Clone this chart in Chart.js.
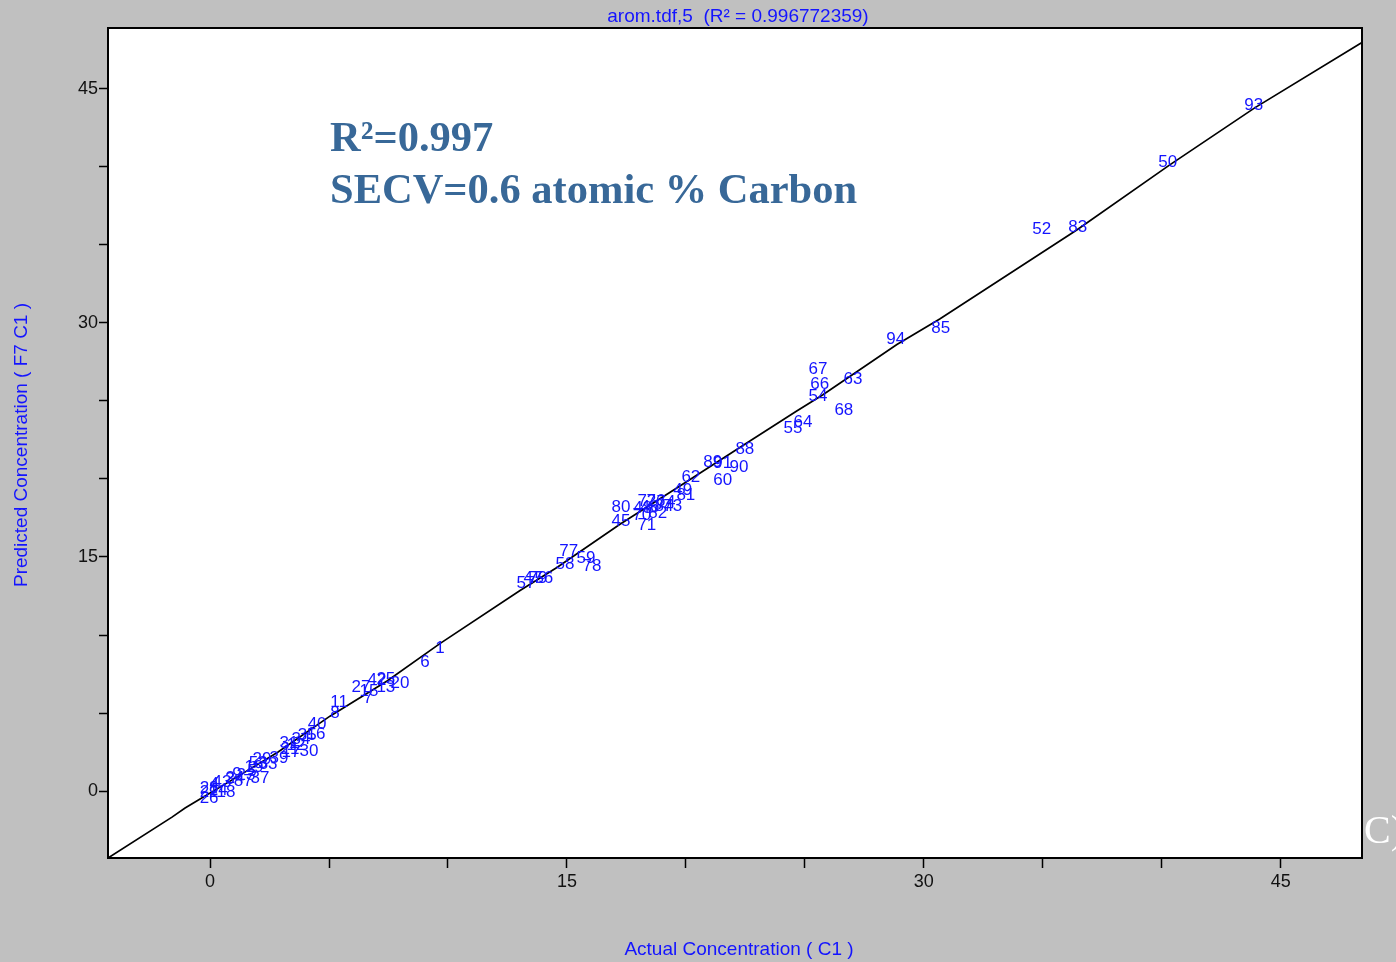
<!DOCTYPE html>
<html>
<head>
<meta charset="utf-8">
<title>arom.tdf,5</title>
<script src="https://cdn.jsdelivr.net/npm/chart.js@4.4.1/dist/chart.umd.min.js"></script>
<style>
  html, body { margin: 0; padding: 0; background: #c0c0c0; }
  #wrap { width: 1396px; height: 962px; position: relative; }
</style>
</head>
<body>
<div id="wrap"><canvas id="chart"></canvas></div>
<script>
// sample numbers with actual vs. predicted carbon concentration
const sampleIds = [1, 6, 20, 13, 25, 42, 27, 15, 7, 11, 8, 40, 16, 35, 34, 12, 31, 21, 17, 30,
  29, 39, 33, 53, 37, 87, 24, 9, 43, 4, 18, 28, 22, 26, 14, 3, 23, 5, 19,
  57, 47, 79, 56, 58, 77, 59, 78, 45, 80, 71, 48, 46, 72, 76, 74, 82, 73, 84, 70,
  49, 81, 62, 60, 89, 91, 90, 88, 55, 64, 54, 66, 67, 63, 68, 94, 85, 52, 83, 50, 93];
const actual = [9.66, 9.03, 7.98, 7.39, 7.39, 7.02, 6.34, 6.68, 6.64, 5.42, 5.25, 4.50, 4.45, 4.08, 3.82, 3.61, 3.32, 3.36, 3.40, 4.16,
  2.18, 2.90, 2.44, 2.02, 2.10, 1.39, 1.05, 1.13, 0.50, 0.17, 0.67, -0.04, -0.04, -0.04, 0.34, 0.84, 1.51, 1.76, 1.85,
  13.28, 13.57, 13.78, 14.03, 14.92, 15.08, 15.80, 16.05, 17.27, 17.27, 18.36, 18.19, 18.49, 18.36, 18.74, 19.16, 18.82, 19.45, 19.08, 18.15,
  19.87, 20.00, 20.21, 21.55, 21.13, 21.55, 22.23, 22.48, 24.50, 24.92, 25.55, 25.63, 25.55, 27.02, 26.64, 28.82, 30.71, 34.96, 36.47, 40.25, 43.87];
const predicted = [9.23, 8.33, 6.99, 6.73, 7.24, 7.18, 6.73, 6.47, 6.03, 5.77, 5.06, 4.36, 3.72, 3.65, 3.40, 3.01, 3.14, 2.76, 2.56, 2.63,
  2.12, 2.18, 1.79, 1.86, 0.90, 0.71, 0.90, 1.15, 0.64, 0.51, 0.00, 0.26, 0.00, -0.38, 0.13, 0.83, 1.09, 1.35, 1.60,
  13.40, 13.72, 13.72, 13.72, 14.62, 15.45, 15.00, 14.49, 17.37, 18.27, 17.12, 18.21, 18.27, 18.65, 18.65, 18.59, 17.88, 18.33, 18.33, 17.76,
  19.36, 19.04, 20.19, 20.00, 21.15, 21.09, 20.83, 21.99, 23.33, 23.72, 25.38, 26.15, 27.12, 26.47, 24.49, 29.04, 29.74, 36.09, 36.22, 40.38, 44.04];

// regression line vertices
const fitX = [-4.29, -1.60, -1.05, -0.42, 1.05, 2.86, 5.04, 7.44, 9.66, 13.03, 14.58, 17.23, 19.75, 22.56, 24.66, 25.76, 28.87, 30.67, 36.43, 40.34, 43.91, 48.40];
const fitY = [-4.29, -1.67, -1.09, -0.51, 0.83, 2.50, 4.80, 7.05, 9.45, 12.85, 14.33, 17.10, 19.55, 22.31, 24.35, 25.40, 28.62, 30.25, 35.96, 40.13, 43.78, 47.95];

const xTicks = [0, 5, 10, 15, 20, 25, 30, 35, 40, 45];
const yTicks = [0, 5, 10, 15, 20, 25, 30, 35, 40, 45];
const majorStep = 15;

const titleText = 'arom.tdf,5  (R\u00B2 = 0.996772359)';
const xTitle = 'Actual Concentration ( C1 )';
const yTitle = 'Predicted Concentration ( F7 C1 )';
const noteLines = ['R\u00B2=0.997', 'SECV=0.6 atomic % Carbon'];

const BLUE = '#1414ff';

const plotFrame = {
  id: 'plotFrame',
  beforeDraw(chart) {
    const { ctx, chartArea: a } = chart;
    ctx.save();
    ctx.fillStyle = '#c0c0c0';
    ctx.fillRect(0, 0, chart.width, chart.height);
    ctx.fillStyle = '#ffffff';
    ctx.fillRect(a.left, a.top, a.right - a.left, a.bottom - a.top);
    ctx.restore();
  },
  afterDatasetsDraw(chart) {
    // sample numbers drawn at each point
    const { ctx } = chart;
    const meta = chart.getDatasetMeta(1);
    ctx.save();
    ctx.fillStyle = BLUE;
    ctx.font = '17px "Liberation Sans", Arial, sans-serif';
    ctx.textAlign = 'center';
    ctx.textBaseline = 'middle';
    meta.data.forEach((pt, i) => {
      ctx.fillText(String(sampleIds[i]), pt.x, pt.y + 1.5);
    });
    ctx.restore();
  },
  afterDraw(chart) {
    const { ctx, chartArea: a } = chart;
    ctx.save();
    ctx.strokeStyle = '#000';
    ctx.lineWidth = 2;
    ctx.strokeRect(a.left, a.top, a.right - a.left, a.bottom - a.top);

    const cx = (a.left + a.right) / 2;
    ctx.fillStyle = BLUE;
    ctx.textAlign = 'center';
    ctx.textBaseline = 'alphabetic';
    ctx.font = '19px "Liberation Sans Narrow", "Liberation Sans", Arial, sans-serif';
    ctx.fillText(titleText, cx + 3, 22);

    ctx.font = '19px "Liberation Sans", Arial, sans-serif';
    ctx.fillText(xTitle, cx + 4, 955);

    ctx.save();
    ctx.translate(27, (a.top + a.bottom) / 2 + 2);
    ctx.rotate(-Math.PI / 2);
    ctx.fillText(yTitle, 0, 0);
    ctx.restore();

    // statistics block
    ctx.fillStyle = '#386898';
    ctx.textAlign = 'left';
    ctx.font = 'bold 42.5px "Liberation Serif", "Times New Roman", serif';
    ctx.fillText(noteLines[0], 330, 151);
    ctx.fillText(noteLines[1], 330, 203);

    ctx.fillStyle = '#ffffff';
    ctx.font = '40px "Liberation Serif", "Times New Roman", serif';
    ctx.fillText('C)', 1364, 843);
    ctx.restore();
  }
};

const majorLabel = v => (v % majorStep === 0 ? String(v) : '');

new Chart(document.getElementById('chart'), {
  type: 'scatter',
  data: {
    datasets: [
      {
        label: 'fit',
        data: fitX.map((x, i) => ({ x, y: fitY[i] })),
        showLine: true,
        borderColor: '#000',
        borderWidth: 1.7,
        pointRadius: 0,
        tension: 0
      },
      {
        label: 'samples',
        data: actual.map((x, i) => ({ x, y: predicted[i] })),
        pointRadius: 0,
        showLine: false
      }
    ]
  },
  options: {
    responsive: true,
    maintainAspectRatio: false,
    devicePixelRatio: 1,
    animation: false,
    layout: { padding: { top: 28, right: 34, left: 0, bottom: 0 } },
    plugins: { legend: { display: false }, tooltip: { enabled: false } },
    scales: {
      x: {
        type: 'linear',
        min: -4.29,
        max: 48.42,
        afterBuildTicks: s => { s.ticks = xTicks.map(v => ({ value: v })); },
        afterFit: s => { s.height = 104; },
        ticks: { callback: majorLabel, color: '#111', padding: 3, maxRotation: 0, autoSkip: false,
          font: { size: 18, family: '"Liberation Sans", Arial, sans-serif' } },
        grid: { drawOnChartArea: false, drawTicks: true, tickLength: 10, color: '#000', tickWidth: 1.5 },
        border: { display: true, color: '#000', width: 2 }
      },
      y: {
        type: 'linear',
        min: -4.29,
        max: 48.9,
        afterBuildTicks: s => { s.ticks = yTicks.map(v => ({ value: v })); },
        afterFit: s => { s.width = 108; },
        ticks: { callback: majorLabel, color: '#111', padding: 1, autoSkip: false,
          font: { size: 18, family: '"Liberation Sans", Arial, sans-serif' } },
        grid: { drawOnChartArea: false, drawTicks: true, tickLength: 9, color: '#000', tickWidth: 1.5 },
        border: { display: true, color: '#000', width: 2 }
      }
    }
  },
  plugins: [plotFrame]
});
</script>
</body>
</html>
